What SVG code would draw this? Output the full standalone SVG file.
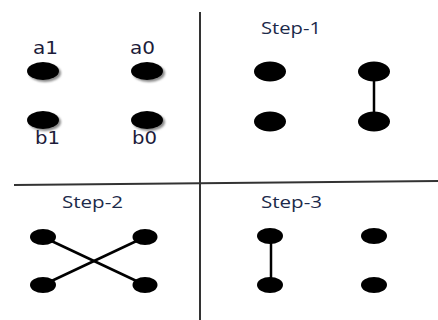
<svg xmlns="http://www.w3.org/2000/svg" width="438" height="320" viewBox="0 0 438 320">
<defs>
<filter id="sh" x="-50%" y="-50%" width="200%" height="200%"><feGaussianBlur stdDeviation="1.2"/></filter>
<style>
.dot{fill:#000}
.shadow{fill:#888;filter:url(#sh)}
.edge{stroke:#000;stroke-width:2.5;fill:none}
.div{stroke:#333;stroke-width:2;fill:none}
.lbl{font-family:"DejaVu Sans",sans-serif;font-size:17px;fill:#1c1c3a;text-anchor:middle}
.step{font-family:"Open Sans","Liberation Sans",sans-serif;font-size:16px;fill:#1c2a4a;text-anchor:middle}
</style>
</defs>
<rect width="438" height="320" fill="#fff"/>
<g id="dividers">
<line class="div" x1="200" y1="12" x2="200" y2="320"/>
<line class="div" x1="14" y1="185" x2="438" y2="181" stroke="#555"/>
</g>
<g id="connectors">
<line class="edge" x1="374" y1="71" x2="374" y2="121"/>
<line class="edge" x1="43" y1="237" x2="145" y2="285"/>
<line class="edge" x1="43" y1="285" x2="145" y2="237"/>
<line class="edge" x1="271" y1="236" x2="271" y2="285"/>
</g>
<g id="q0">
<g id="a1"><ellipse class="shadow" cx="45" cy="73" rx="16" ry="9"/><ellipse class="dot" cx="43" cy="71" rx="16" ry="9"/><text class="lbl" x="45.5" y="54" textLength="25" lengthAdjust="spacingAndGlyphs">a1</text></g>
<g id="a0"><ellipse class="shadow" cx="149" cy="73" rx="16" ry="9"/><ellipse class="dot" cx="147" cy="71" rx="16" ry="9"/><text class="lbl" x="142.5" y="54" textLength="25" lengthAdjust="spacingAndGlyphs">a0</text></g>
<g id="b1"><ellipse class="shadow" cx="45" cy="122" rx="16" ry="9"/><ellipse class="dot" cx="43" cy="120" rx="16" ry="9"/><text class="lbl" x="47.5" y="144" textLength="25" lengthAdjust="spacingAndGlyphs">b1</text></g>
<g id="b0"><ellipse class="shadow" cx="149" cy="122" rx="16" ry="9"/><ellipse class="dot" cx="147" cy="120" rx="16" ry="9"/><text class="lbl" x="144.5" y="144" textLength="25" lengthAdjust="spacingAndGlyphs">b0</text></g>
</g>
<g id="step1">
<text class="step" x="291" y="34" textLength="60" lengthAdjust="spacingAndGlyphs">Step-1</text>
<g id="s1a1"><ellipse class="dot" cx="270" cy="71.5" rx="16" ry="10"/></g>
<g id="s1b1"><ellipse class="dot" cx="270" cy="121.5" rx="16" ry="10"/></g>
<g id="s1a0"><ellipse class="dot" cx="374" cy="71.5" rx="16" ry="10"/></g>
<g id="s1b0"><ellipse class="dot" cx="374" cy="121.5" rx="16" ry="10"/></g>
</g>
<g id="step2">
<text class="step" x="92.5" y="208" textLength="61" lengthAdjust="spacingAndGlyphs">Step-2</text>
<g id="s2a1"><ellipse class="dot" cx="43" cy="237" rx="13" ry="8"/></g>
<g id="s2b1"><ellipse class="dot" cx="43" cy="285" rx="13" ry="8"/></g>
<g id="s2a0"><ellipse class="dot" cx="145" cy="237" rx="12.5" ry="8"/></g>
<g id="s2b0"><ellipse class="dot" cx="145" cy="285" rx="12.5" ry="8"/></g>
</g>
<g id="step3">
<text class="step" x="291.5" y="208" textLength="61" lengthAdjust="spacingAndGlyphs">Step-3</text>
<g id="s3a1"><ellipse class="dot" cx="270" cy="236" rx="13" ry="8"/></g>
<g id="s3b1"><ellipse class="dot" cx="270" cy="285" rx="13" ry="8"/></g>
<g id="s3a0"><ellipse class="dot" cx="374" cy="236" rx="13" ry="8"/></g>
<g id="s3b0"><ellipse class="dot" cx="374" cy="285" rx="13" ry="8"/></g>
</g>
</svg>
